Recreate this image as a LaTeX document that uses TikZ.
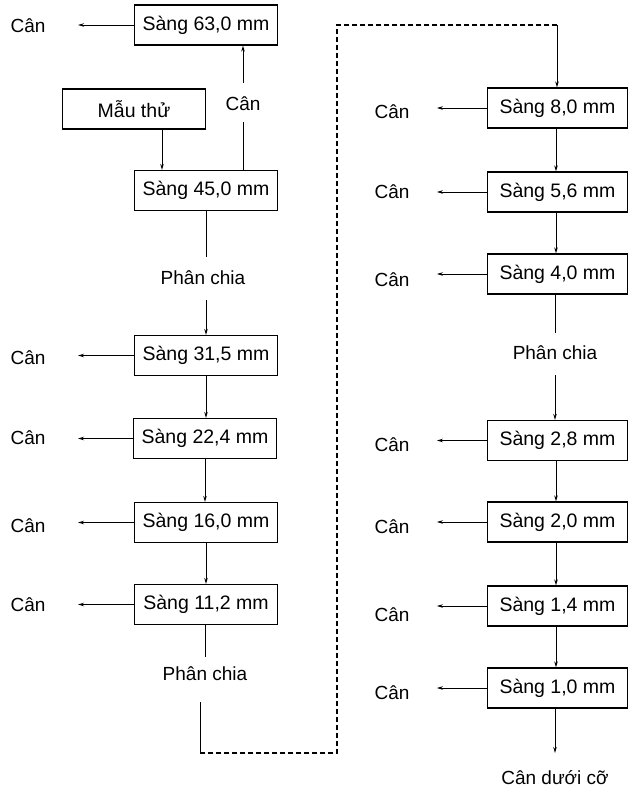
\documentclass[tikz,border=0pt]{standalone}
\usepackage{fontspec}
\setmainfont{Liberation Sans}
\usetikzlibrary{arrows.meta}
\begin{document}
\begin{tikzpicture}[x=1pt,y=-1pt,
  box/.style={draw,line width=1.2pt,minimum width=143pt,minimum height=40pt,inner sep=0pt,font=\fontsize{19.5}{22}\selectfont},
  rbox/.style={box,minimum width=140pt},
  lbl/.style={inner sep=0pt,font=\fontsize{19}{22}\selectfont},
  ln/.style={line width=1pt},
  arr/.style={ln,-{Stealth[length=6pt,width=3.5pt]}},
  dsh/.style={line width=1.1pt,dash pattern=on 5pt off 3pt}]
\useasboundingbox (0,0) rectangle (629,796);
% ---------- left column ----------
\node[box] (b63) at (206,25) {Sàng 63,0 mm};
\node[box] (mau) at (134,109) {Mẫu thử};
\node[box] (b45) at (206,190.5) {Sàng 45,0 mm};
\node[box] (b315) at (206,355.5) {Sàng 31,5 mm};
\node[box] (b224) at (205,438.5) {Sàng 22,4 mm};
\node[box] (b160) at (206,522.5) {Sàng 16,0 mm};
\node[box] (b112) at (206,604.5) {Sàng 11,2 mm};
\node[lbl] (cmid) at (243,104) {Cân};
\node[lbl] (p1) at (203,278) {Phân chia};
\node[lbl] (p2) at (205,674) {Phân chia};
\node[lbl] (c63) at (28,26) {Cân};
\node[lbl] (c315) at (28,358) {Cân};
\node[lbl] (c224) at (28,438) {Cân};
\node[lbl] (c160) at (28,526) {Cân};
\node[lbl] (c112) at (28,605) {Cân};
\coordinate (e63) at (78,25);
\coordinate (e315) at (78,355.5);
\coordinate (e224) at (78,438.5);
\coordinate (e160) at (78,522.5);
\coordinate (e112) at (78,604.5);
\foreach \b/\e in {b63/e63,b315/e315,b224/e224,b160/e160,b112/e112}
  \draw[arr] (\b.west) -- (\e);
\coordinate (m1) at (243,83);
\coordinate (m2) at (243,122);
\draw[arr] (m1) -- (m1 |- b63.south);
\draw[ln] (m2) -- (m2 |- b45.north);
\draw[arr] ([xshift=28pt]mau.south) -- ([xshift=28pt]mau.south |- b45.north);
\coordinate (q1) at (206,257);
\coordinate (q2) at (206,300);
\draw[ln] (b45.south) -- (q1);
\draw[arr] (q2) -- (b315.north);
\draw[arr] (b315.south) -- (b315.south |- b224.north);
\draw[arr] (b224.south) -- (b224.south |- b160.north);
\draw[arr] (b160.south) -- (b112.north);
\coordinate (q3) at (205,657);
\coordinate (q4) at (200,702);
\coordinate (k1) at (200,753);
\coordinate (k2) at (337,753);
\coordinate (k3) at (337,25);
\coordinate (k4) at (557,25);
\draw[ln] (b112.south -| q3) -- (q3);
\draw[ln] (q4) -- (k1);
\draw[dsh] (k1) -- (k2) -- (k3) -- (k4);
% ---------- right column ----------
\node[rbox] (b80) at (557.5,108) {Sàng 8,0 mm};
\node[rbox] (b56) at (557.5,192) {Sàng 5,6 mm};
\node[rbox] (b40) at (557.5,274) {Sàng 4,0 mm};
\node[rbox] (b28) at (557.5,440.5) {Sàng 2,8 mm};
\node[rbox] (b20) at (557.5,522) {Sàng 2,0 mm};
\node[rbox] (b14) at (557.5,606) {Sàng 1,4 mm};
\node[rbox] (b10) at (557.5,688) {Sàng 1,0 mm};
\node[lbl] (p3) at (555,353) {Phân chia};
\node[lbl] (cd) at (555,778) {Cân dưới cỡ};
\draw[arr] (k4) -- (k4 |- b80.north);
\foreach \b/\y in {b80/112,b56/192,b40/280,b28/445,b20/527,b14/615,b10/693}{
  \node[lbl] (c\b) at (392,\y) {Cân};
  \draw[arr] (\b.west) -- ++(-50,0);
}
\coordinate (r0) at (556,0);
\draw[arr] (r0 |- b80.south) -- (r0 |- b56.north);
\draw[arr] (r0 |- b56.south) -- (r0 |- b40.north);
\coordinate (r1) at (555,333);
\coordinate (r2) at (555,375);
\draw[ln] (r1 |- b40.south) -- (r1);
\draw[arr] (r2) -- (r2 |- b28.north);
\draw[arr] (r0 |- b28.south) -- (r0 |- b20.north);
\draw[arr] (r0 |- b20.south) -- (r0 |- b14.north);
\draw[arr] (r0 |- b14.south) -- (r0 |- b10.north);
\coordinate (r3) at (555,753);
\draw[arr] (r3 |- b10.south) -- (r3);
\end{tikzpicture}
\end{document}
